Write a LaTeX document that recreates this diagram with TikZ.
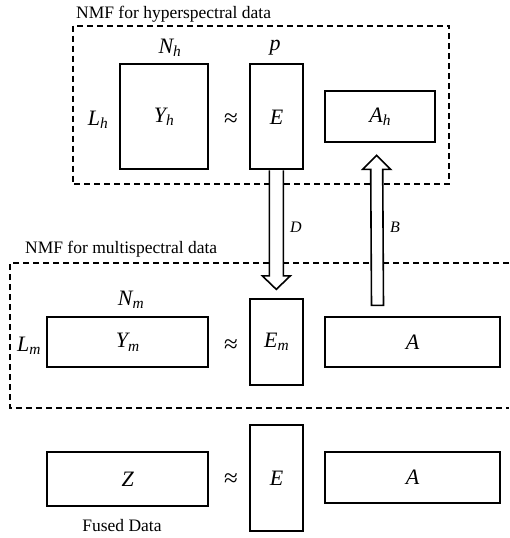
\documentclass[tikz,border=0pt]{standalone}
\usepackage{fontspec}
\setmainfont{Liberation Serif}
\usetikzlibrary{calc}
\newcommand\mvar[2]{\textit{#1}\textsubscript{\textit{#2}}}
\begin{document}
\begin{tikzpicture}[x=1pt,y=-1pt,
  mat/.style={draw,line width=2pt,rectangle,inner sep=0pt,fill=white,font=\fontsize{22}{24}\selectfont\itshape},
  lab/.style={inner sep=0pt,font=\fontsize{22}{24}\selectfont\itshape},
  apx/.style={inner sep=0pt,font=\fontsize{25}{28}\selectfont},
  ttl/.style={inner sep=0pt,anchor=west,font=\fontsize{17.5}{20}\selectfont},
  small/.style={inner sep=0pt,anchor=west,font=\fontsize{16}{18}\selectfont\itshape},
  dbox/.style={draw,line width=2pt,dash pattern=on 6pt off 4pt},
  blk/.style={draw,line width=1.6pt,fill=white,line join=miter}]
\useasboundingbox (0,0) rectangle (509,538);
% dashed frames
\draw[dbox] (72.7,25.7) rectangle (449,184.3);
\draw[dbox] (509,263.3) -- (10,263.3) -- (10,408.3) -- (509,408.3);
\node[ttl] (t1) at (76,14) {NMF for hyperspectral data};
\node[ttl] (t2) at (25,249) {NMF for multispectral data};
% row 1
\node[mat,minimum width=88.6pt,minimum height=105pt] (Yh) at (164,116.8) {\mvar{Y}{h}};
\node[mat,minimum width=53.3pt,minimum height=105pt] (E1) at (276.7,116.8) {E};
\node[mat,minimum width=110.3pt,minimum height=51.3pt] (Ah) at (380.2,116.7) {\mvar{A}{h}};
\node[lab] (Nh) at (170,48) {\mvar{N}{h}};
\node[lab] (p) at (275,48) {p};
\node[lab] (Lh) at (98,120) {\mvar{L}{h}};
\node[apx] (ap1) at (231,120) {≈};
% row 2
\node[mat,minimum width=161.3pt,minimum height=50pt] (Ym) at (127.7,342.3) {\mvar{Y}{m}};
\node[mat,minimum width=53.3pt,minimum height=85.7pt] (Em) at (276.7,342.2) {\mvar{E}{m}};
\node[mat,minimum width=175pt,minimum height=50pt] (A) at (412.5,342.3) {A};
\node[lab] (Nm) at (131,300) {\mvar{N}{m}};
\node[lab] (Lm) at (29,346) {\mvar{L}{m}};
\node[apx] (ap2) at (231,346) {≈};
% row 3
\node[mat,minimum width=161.3pt,minimum height=54.3pt] (Z) at (127.7,478.8) {Z};
\node[mat,minimum width=53.3pt,minimum height=105.7pt] (E3) at (276.7,477.8) {E};
\node[mat,minimum width=175pt,minimum height=50.4pt] (A3) at (412.5,477.5) {A};
\node[apx] (ap3) at (231,480) {≈};
\node[inner sep=0pt,font=\fontsize{17.5}{20}\selectfont] (fd) at (122,526) {Fused Data};
% block arrows
\coordinate (ds) at ($(E1.south)+(-0.4,0)$);
\coordinate (dt) at ($(Em.north)+(-0.4,-9)$);
\draw[blk] ($(ds)+(-7,0)$) -- ($(dt)+(-7,-13.5)$) -- ($(dt)+(-14,-13.5)$) -- (dt)
  -- ($(dt)+(14,-13.5)$) -- ($(dt)+(7,-13.5)$) -- ($(ds)+(7,0)$);
\coordinate (bs) at ($(A.north)+(-35,-11)$);
\coordinate (bt) at ($(Ah.south)+(-3.5,12)$);
\draw[blk] ($(bs)+(-6,0)$) -- ($(bt)+(-6,14)$) -- ($(bt)+(-14,14)$) -- (bt)
  -- ($(bt)+(14,14)$) -- ($(bt)+(6,14)$) -- ($(bs)+(6,0)$) -- cycle;
\node[small] (D) at (290,227) {D};
\node[small] (B) at (390,227) {B};
\end{tikzpicture}
\end{document}
